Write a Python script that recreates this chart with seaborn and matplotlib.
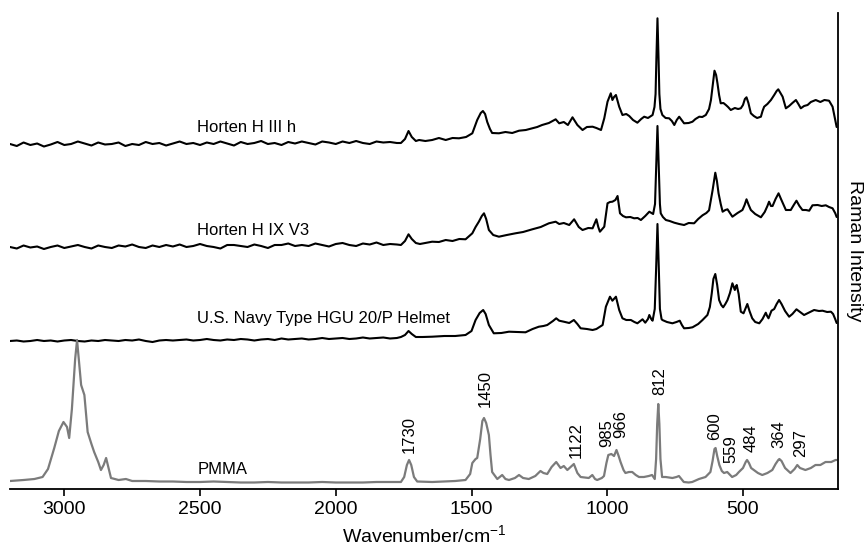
import matplotlib
matplotlib.use("Agg")
import matplotlib.pyplot as plt
import pandas as pd
import seaborn as sns

# shared wavenumber grid for the flat, noisy high-wavenumber part of the sample spectra
BASE_WN = [3200, 3175, 3150, 3125, 3100, 3075, 3050, 3025, 3000, 2975, 2950, 2925, 2900, 2875,
           2850, 2825, 2800, 2775, 2750, 2725, 2700, 2675, 2650, 2625, 2600, 2575, 2550, 2525,
           2500, 2475, 2450, 2425, 2400, 2375, 2350, 2325, 2300, 2275, 2250, 2225, 2200, 2175,
           2150, 2125, 2100, 2075, 2050, 2025, 2000, 1975, 1950, 1925, 1900, 1875, 1850, 1825,
           1800, 1775]

H3_BASE = [345, 343, 346.5, 344, 345.5, 342.5, 344.5, 347, 344, 345,
           347.5, 345.5, 343.5, 346.5, 344.5, 345, 346.5, 343, 345, 344,
           347, 345, 346, 343.5, 345.5, 347.5, 345, 346, 344, 346.5,
           345, 347.5, 345.5, 343.5, 347, 345, 346, 348, 345, 346,
           344, 347, 345.5, 347.5, 346, 344.5, 347.5, 346.5, 345, 347.5,
           346, 348, 346, 345, 347.5, 346.5, 347, 346]
H3_PEAKS = [(1760, 346), (1745, 350), (1732, 358), (1720, 352), (1705, 348), (1693, 349), (1670, 348),
            (1645, 349), (1620, 351), (1595, 349), (1570, 351), (1546, 350.7), (1520, 352), (1497, 355.7),
            (1479, 369), (1466, 376), (1458, 378), (1450, 375), (1442, 367), (1432, 360), (1424, 356),
            (1399, 355.7), (1375, 357), (1350, 356), (1325, 358.3), (1300, 359), (1276, 360.7), (1258, 362),
            (1240, 364), (1215, 366), (1190, 369.7), (1177, 365.7), (1160, 367), (1145, 364), (1128, 371.7),
            (1110, 364), (1091, 359), (1075, 362), (1054, 362.3), (1040, 361), (1023, 359), (1011, 370.7),
            (999, 387.3), (987, 395.7), (981, 389), (975, 392), (968, 394), (956, 382.3), (944, 374),
            (930, 375), (919, 373), (905, 369), (889, 366.3), (875, 370), (864, 372.3), (850, 371),
            (833, 374), (826, 382), (822, 395), (819, 430), (815, 470.7), (811, 430), (808, 395),
            (804, 380), (797, 374), (785, 371), (772, 370.7), (762, 368), (753, 364), (744, 369),
            (735, 372.3), (726, 369), (717, 365.7), (700, 366), (686, 367.3), (675, 370), (661, 372.3),
            (650, 372), (637, 374), (625, 380), (618, 389), (611, 405), (605, 418.3), (599, 414),
            (594, 405.7), (588, 394), (582, 385.7), (572, 386), (563, 384), (555, 382), (545, 379),
            (530, 381), (518, 380), (508, 380.7), (500, 384), (493, 390), (487, 391.7), (480, 386),
            (471, 375.7), (460, 373), (448, 371), (434, 372.3), (428, 378), (422, 382.3), (410, 385),
            (397, 389), (385, 394), (376, 398), (370, 399.7), (362, 396), (354, 392.3), (342, 380.7),
            (330, 383), (318, 386), (305, 389), (296, 385), (287, 380.7), (275, 383), (262, 384),
            (250, 387), (232, 389), (215, 387), (200, 389), (183, 388.3), (170, 382.3), (160, 369),
            (155, 362)]

H9_BASE = [242, 240.5, 243.5, 241.5, 242.5, 240, 242, 243.5, 241, 242.5,
           244, 242, 240.5, 243.5, 242, 241, 243.5, 242.5, 244.5, 242,
           241, 243.5, 242, 244, 242.5, 244.5, 242, 243, 245, 243,
           242, 240.5, 244, 244, 243, 242, 244.5, 243, 241, 244,
           244, 245.5, 243, 244, 243, 245.5, 244, 242.5, 245, 246,
           244, 243, 245.5, 244.5, 246.5, 244, 245, 244.5]
H9_PEAKS = [(1760, 244), (1745, 248), (1732, 254.7), (1720, 250), (1705, 246), (1690, 245), (1670, 246),
            (1645, 247.3), (1620, 247), (1595, 249), (1570, 248), (1545, 250), (1522, 249.7), (1497, 255.7),
            (1485, 262), (1473, 267.3), (1462, 273), (1454, 275.7), (1446, 270), (1436, 259), (1420, 254),
            (1399, 252.3), (1370, 254), (1338, 255.7), (1310, 257), (1276, 259.7), (1245, 262), (1215, 265.7),
            (1190, 267.3), (1177, 265), (1160, 266), (1140, 264), (1122, 269.7), (1105, 262), (1091, 259),
            (1070, 261), (1054, 260.7), (1040, 269.7), (1033, 262), (1027, 257.3), (1011, 262.3),
            (999, 285.7), (990, 287), (981, 287.3), (970, 289), (962, 293), (953, 275.7), (942, 273),
            (931, 271.7), (915, 272), (901, 270.7), (888, 271), (876, 269), (860, 273), (845, 277.3),
            (831, 275), (824, 285), (820, 320), (815, 363), (810, 320), (806, 285), (803, 275.7),
            (795, 272), (784, 269), (770, 268), (753, 266.3), (735, 265), (717, 264), (700, 266),
            (680, 265.7), (665, 270), (649, 273.7), (635, 276), (625, 278.7), (612, 298.7), (602, 316.3),
            (596, 308), (590, 295.7), (582, 285), (575, 277.3), (565, 279), (557, 279.7), (548, 276),
            (539, 272.3), (520, 276), (502, 279), (494, 284), (487, 289.7), (479, 284), (471, 279),
            (455, 275), (434, 271.7), (420, 277), (410, 283), (404, 287.3), (397, 283), (391, 283),
            (380, 290), (369, 295.7), (360, 290), (350, 284), (342, 279), (324, 279), (313, 284),
            (303, 288.3), (292, 283), (281, 279), (268, 279), (256, 278.3), (244, 283.7), (225, 284),
            (210, 283), (195, 283.7), (183, 282), (170, 280.7), (160, 275.7), (155, 272)]

NAVY_BASE = [148, 148.5, 147.5, 148, 149, 148, 148.5, 147.5, 148.5, 149,
             148, 147.5, 148.5, 148, 149, 148.5, 148, 149, 148.5, 149.5,
             148, 147, 148.5, 149, 148.5, 149, 149.5, 148.5, 149, 150,
             149, 148.5, 149.5, 149, 150, 149.5, 148.5, 149.5, 150, 149,
             150.5, 149.5, 150, 150.5, 149.5, 150, 151, 150, 150.5, 151,
             150, 150.5, 151.5, 150.5, 151, 151.5, 150.5, 151]
NAVY_PEAKS = [(1760, 152), (1745, 154), (1732, 158), (1720, 155), (1705, 152), (1680, 152), (1645, 152.3),
              (1600, 153), (1560, 153), (1522, 154), (1500, 158), (1485, 169), (1470, 176), (1457, 179),
              (1448, 175), (1436, 164), (1418, 155.7), (1390, 156), (1362, 157.3), (1330, 157), (1301, 156.7),
              (1275, 160), (1252, 162.3), (1235, 163), (1221, 164), (1200, 168), (1188, 170.7), (1177, 168.3),
              (1160, 167.3), (1140, 166), (1123, 169), (1110, 165), (1098, 160.7), (1075, 160), (1054, 159),
              (1040, 160), (1017, 164), (1005, 182.3), (990, 192.3), (981, 188.3), (968, 192.3), (956, 179),
              (944, 170.7), (930, 169), (913, 169), (900, 167), (889, 165.7), (870, 169.7), (860, 166.3),
              (850, 170), (845, 174), (838, 170), (833, 168.3), (825, 180), (820, 220), (815, 265),
              (810, 220), (806, 180), (800, 170), (797, 169), (780, 167), (760, 165.7), (745, 167),
              (733, 168.3), (725, 164), (717, 160.7), (700, 161), (686, 161.7), (665, 165), (649, 169),
              (631, 174), (622, 182), (615, 195.7), (609, 210), (602, 215), (595, 204), (588, 189),
              (580, 184), (573, 181.7), (565, 185), (557, 189), (548, 196), (539, 205.7), (534, 202),
              (530, 199), (527, 202), (523, 204), (516, 195), (508, 177.3), (498, 175.7), (490, 181),
              (484, 185), (476, 178), (466, 170.7), (455, 167), (440, 165.7), (428, 170), (416, 176.3),
              (411, 173), (406, 170.7), (400, 175), (395, 178.3), (385, 180), (376, 185), (367, 189),
              (358, 185), (345, 178), (330, 172.3), (318, 175), (303, 179.7), (290, 177), (275, 174),
              (260, 176), (238, 179), (220, 178), (207, 178.3), (190, 177), (176, 177.3), (168, 175),
              (160, 169.7), (155, 166)]

PMMA = [(3200, 8), (3150, 9), (3110, 10), (3080, 12), (3060, 20), (3037, 41), (3020, 58), (3003, 67),
        (2990, 62), (2982, 51), (2972, 80), (2960, 130), (2953, 149), (2945, 125), (2938, 104),
        (2926, 94), (2914, 57), (2900, 45), (2890, 37), (2875, 27), (2865, 19), (2855, 24), (2846, 31),
        (2838, 22), (2828, 11), (2800, 9), (2773, 10), (2750, 8), (2700, 8), (2650, 7.5), (2600, 7.5),
        (2550, 7), (2500, 7), (2450, 7.5), (2400, 7), (2350, 6.5), (2300, 6.5), (2250, 7), (2200, 6.5),
        (2150, 6.5), (2100, 6.5), (2050, 7), (2000, 6.5), (1950, 6.5), (1900, 6.5), (1850, 7),
        (1800, 7), (1760, 7), (1748, 12), (1738, 24), (1730, 29), (1722, 24), (1712, 12), (1700, 7.5),
        (1645, 7), (1560, 8), (1522, 9), (1505, 15), (1497, 26), (1485, 30), (1479, 31), (1468, 50),
        (1460, 68), (1454, 71), (1446, 66), (1436, 54), (1430, 34), (1424, 17), (1405, 10), (1387, 14),
        (1375, 10), (1362, 9), (1340, 11), (1325, 14), (1310, 11), (1289, 10), (1265, 13), (1246, 18),
        (1235, 16), (1221, 15), (1205, 22), (1188, 27), (1172, 21), (1160, 23), (1147, 19), (1135, 22),
        (1123, 25), (1110, 16), (1098, 12), (1068, 11), (1055, 14), (1045, 10), (1037, 9), (1020, 11),
        (1012, 13), (1003, 26), (996, 34), (985, 35), (975, 33), (966, 39), (958, 33), (951, 27),
        (940, 19), (933, 16), (920, 17), (908, 17), (895, 14), (883, 12), (865, 12), (847, 13),
        (835, 14), (825, 10), (820, 30), (816, 65), (812, 85), (808, 65), (804, 30), (798, 12),
        (785, 12), (760, 11), (745, 12), (736, 13), (718, 7), (700, 6.5), (687, 7), (662, 10),
        (638, 12), (620, 17), (612, 28), (605, 40), (601, 41), (595, 33), (587, 24), (578, 18),
        (570, 16), (558, 17), (540, 12), (525, 14), (515, 17), (500, 21), (490, 27), (485, 29),
        (478, 26), (470, 21), (460, 19), (445, 16), (429, 14), (410, 16), (392, 19), (380, 25),
        (370, 29), (366, 30), (358, 28), (345, 21), (325, 16), (310, 20), (300, 24), (290, 21),
        (270, 19), (250, 21), (233, 24), (215, 24), (196, 27), (175, 27), (159, 29), (155, 29)]

# sample names: (text, baseline height of the text)
SAMPLE_LABELS = [("Horten H III h", 357), ("Horten H IX V3", 254),
                 ("U.S. Navy Type HGU 20/P Helmet", 166), ("PMMA", 15)]
LABEL_WN = 2510

# PMMA band labels: (text, x position, bottom of text)
BAND_LABELS = [("1730", 1730, 36), ("1450", 1450, 82), ("1122", 1115, 31), ("985", 1000, 42),
               ("966", 949, 51), ("812", 807, 94), ("600", 605, 49), ("559", 545, 26),
               ("484", 470, 37), ("364", 368, 41), ("297", 288, 32)]


def build(base, peaks, name):
    assert len(base) == len(BASE_WN)
    wn = BASE_WN + [p[0] for p in peaks]
    val = base + [p[1] for p in peaks]
    return pd.DataFrame({"wn": wn, "I": val, "sample": name})


sns.set_style("ticks")
plt.rcParams["font.family"] = ["Liberation Sans", "DejaVu Sans"]
plt.rcParams["mathtext.fontset"] = "custom"
plt.rcParams["mathtext.rm"] = "Liberation Sans"
plt.rcParams["text.color"] = "black"
plt.rcParams["axes.labelcolor"] = "black"

fig = plt.figure(figsize=(8.66, 5.5), dpi=100)
ax = fig.add_axes([10 / 866, 61 / 550, 828 / 866, 476 / 550])

black = [build(H3_BASE, H3_PEAKS, "h3"), build(H9_BASE, H9_PEAKS, "h9"), build(NAVY_BASE, NAVY_PEAKS, "navy")]
for df in black:
    sns.lineplot(data=df, x="wn", y="I", ax=ax, color="black", lw=1.5, estimator=None, sort=False)
pm = pd.DataFrame(PMMA, columns=["wn", "I"])
sns.lineplot(data=pm, x="wn", y="I", ax=ax, color="#7b7b7b", lw=1.6, estimator=None, sort=False)

for text, y in SAMPLE_LABELS:
    ax.text(LABEL_WN, y, text, ha="left", va="baseline", fontsize=12, color="black")
for text, x, y in BAND_LABELS:
    ax.text(x, y, text, rotation=90, ha="center", va="bottom", fontsize=12, color="black")

ax.set_xlim(3200, 150)
ax.set_ylim(0, 476)
ax.set_xticks([3000, 2500, 2000, 1500, 1000, 500])
ax.set_yticks([])
ax.tick_params(axis="x", labelsize=14, length=5, width=1.2, pad=4, color="black", labelcolor="black")
ax.set_xlabel("Wavenumber/cm$^{-1}$", fontsize=14, labelpad=4)
ax.yaxis.set_label_position("right")
ax.set_ylabel("Raman Intensity", fontsize=14, rotation=270, labelpad=18)
for side in ["left", "top"]:
    ax.spines[side].set_visible(False)
for side in ["right", "bottom"]:
    ax.spines[side].set_linewidth(1.3)
    ax.spines[side].set_color("black")

fig.savefig("out.png", dpi=100)
